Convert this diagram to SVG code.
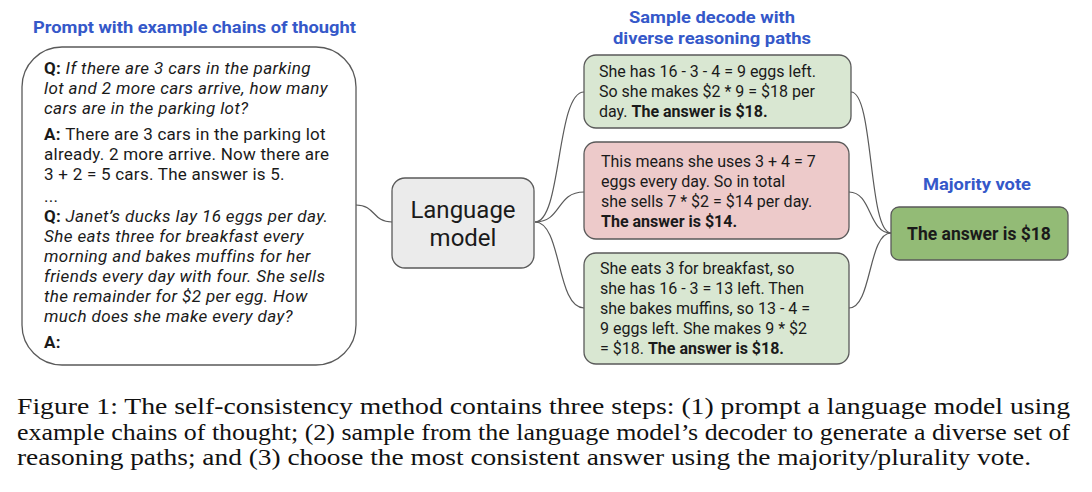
<svg xmlns="http://www.w3.org/2000/svg" width="1092" height="492" viewBox="0 0 1092 492">
<style>
.t{font-family:Roboto,"Liberation Sans",sans-serif;font-size:16px;fill:#1a1a1a}
.L{font-size:17px;letter-spacing:0.25px}
.L .i,.L.i{letter-spacing:0.4px}
.h{font-family:Roboto,"Liberation Sans",sans-serif;font-size:17px;font-weight:bold;fill:#3558c9}
.b{font-weight:bold}
.i{font-style:italic}
.box{stroke:#5a5a5a;stroke-width:1.3}
.con{fill:none;stroke:#5a5a5a;stroke-width:1.2}
.cap{font-family:"Liberation Serif","Times New Roman",serif;font-size:24px;fill:#111}
</style>
<rect width="1092" height="492" fill="#ffffff"/>
<text class="h" x="33" y="33" textLength="323" lengthAdjust="spacingAndGlyphs">Prompt with example chains of thought</text>
<text class="h" x="629" y="23" textLength="166" lengthAdjust="spacingAndGlyphs">Sample decode with</text>
<text class="h" x="613" y="44" textLength="198" lengthAdjust="spacingAndGlyphs">diverse reasoning paths</text>
<text class="h" x="923" y="190" textLength="108" lengthAdjust="spacingAndGlyphs">Majority vote</text>
<g id="connectors">
<path class="con" d="M356,205 C376,205 372,222 392,222"/>
<path class="con" d="M535,222 C562,222 556,92 584,92"/>
<path class="con" d="M535,222 C562,222 556,192 584,192"/>
<path class="con" d="M535,222 C562,222 556,308 584,308"/>
<path class="con" d="M851,92 C874,92 868,233 891,233"/>
<path class="con" d="M849,192 C872,192 868,233 891,233"/>
<path class="con" d="M849,308 C872,308 868,233 891,233"/>
</g>
<g id="prompt">
<rect class="box" x="22" y="47" width="334" height="318" rx="40" fill="#ffffff"/>
<text class="t L" x="44" y="74"><tspan class="b">Q: </tspan><tspan class="i">If there are 3 cars in the parking</tspan></text>
<text class="t L i" x="44" y="94">lot and 2 more cars arrive, how many</text>
<text class="t L i" x="44" y="114">cars are in the parking lot?</text>
<text class="t L" x="44" y="140"><tspan class="b">A: </tspan>There are 3 cars in the parking lot</text>
<text class="t L" x="44" y="160">already. 2 more arrive. Now there are</text>
<text class="t L" x="44" y="180">3 + 2 = 5 cars. The answer is 5.</text>
<text class="t L" x="44" y="202">...</text>
<text class="t L" x="44" y="222"><tspan class="b">Q: </tspan><tspan class="i">Janet’s ducks lay 16 eggs per day.</tspan></text>
<text class="t L i" x="44" y="242">She eats three for breakfast every</text>
<text class="t L i" x="44" y="262">morning and bakes muffins for her</text>
<text class="t L i" x="44" y="282">friends every day with four. She sells</text>
<text class="t L i" x="44" y="302">the remainder for $2 per egg. How</text>
<text class="t L i" x="44" y="322">much does she make every day?</text>
<text class="t L b" x="44" y="348">A:</text>
</g>
<g id="lm">
<rect class="box" x="392" y="178" width="142" height="90" rx="13" fill="#ebebeb"/>
<text class="t" x="463" y="218" text-anchor="middle" style="font-size:24px">Language</text>
<text class="t" x="463" y="246" text-anchor="middle" style="font-size:24px">model</text>
</g>
<g id="path1">
<rect class="box" x="584" y="55" width="267" height="73" rx="12" fill="#d9e7d2"/>
<text class="t" x="599" y="77">She has 16 - 3 - 4 = 9 eggs left.</text>
<text class="t" x="599" y="97">So she makes $2 * 9 = $18 per</text>
<text class="t" x="599" y="117">day. <tspan class="b">The answer is $18.</tspan></text>
</g>
<g id="path2">
<rect class="box" x="584" y="142" width="265" height="97" rx="12" fill="#edcaca"/>
<text class="t" x="601" y="167">This means she uses 3 + 4 = 7</text>
<text class="t" x="601" y="187">eggs every day. So in total</text>
<text class="t" x="601" y="207">she sells 7 * $2 = $14 per day.</text>
<text class="t b" x="601" y="227">The answer is $14.</text>
</g>
<g id="path3">
<rect class="box" x="584" y="253" width="265" height="111" rx="12" fill="#d9e7d2"/>
<text class="t" x="600" y="274">She eats 3 for breakfast, so</text>
<text class="t" x="600" y="294">she has 16 - 3 = 13 left. Then</text>
<text class="t" x="600" y="314">she bakes muffins, so 13 - 4 =</text>
<text class="t" x="600" y="334">9 eggs left. She makes 9 * $2</text>
<text class="t" x="600" y="354">= $18. <tspan class="b">The answer is $18.</tspan></text>
</g>
<g id="vote">
<rect class="box" x="891" y="207" width="177" height="53" rx="8" fill="#93bb76"/>
<text class="t b" x="979" y="240" text-anchor="middle" style="font-size:17.5px">The answer is $18</text>
</g>
<g id="caption">
<text class="cap" x="17" y="414" textLength="1053" lengthAdjust="spacingAndGlyphs">Figure 1: The self-consistency method contains three steps: (1) prompt a language model using</text>
<text class="cap" x="17" y="440" textLength="1053" lengthAdjust="spacingAndGlyphs">example chains of thought; (2) sample from the language model’s decoder to generate a diverse set of</text>
<text class="cap" x="17" y="465" textLength="1014" lengthAdjust="spacingAndGlyphs">reasoning paths; and (3) choose the most consistent answer using the majority/plurality vote.</text>
</g>
</svg>
